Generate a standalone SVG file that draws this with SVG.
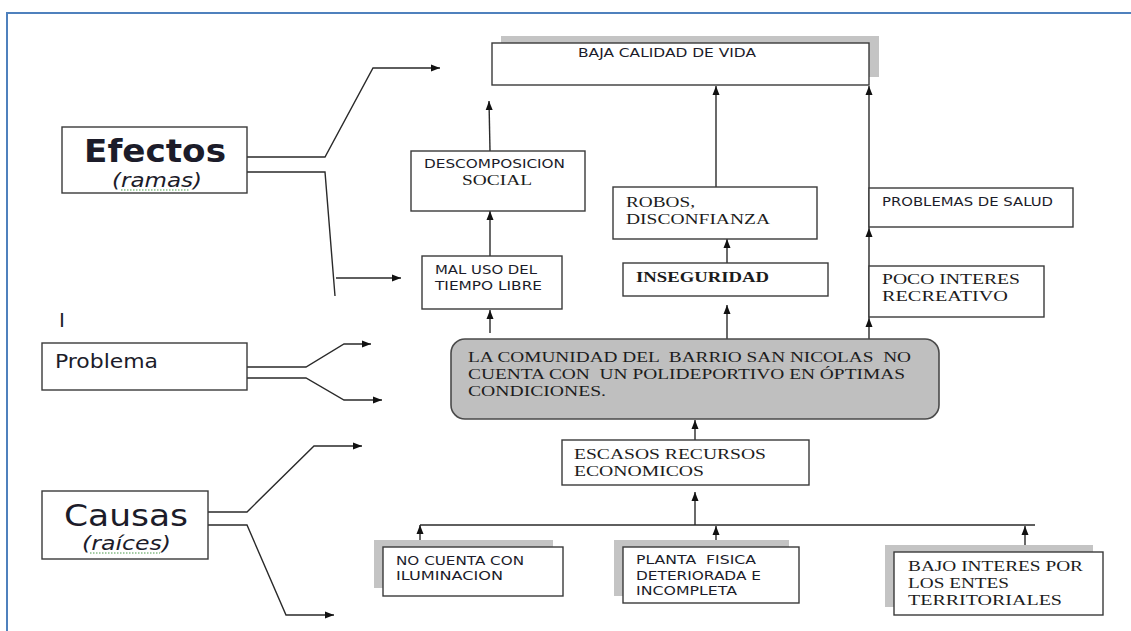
<svg xmlns="http://www.w3.org/2000/svg" width="1131" height="631" viewBox="0 0 1131 631">
<style>
.box{fill:#fff;stroke:#3a3a3a;stroke-width:1.4}
.shadow{fill:#c4c4c4}
.prob{fill:#bfbfbf;stroke:#4a4a4a;stroke-width:1.6}
.con{fill:none;stroke:#2a2a2a;stroke-width:1.4}
.sans{font-family:"DejaVu Sans",Verdana,sans-serif;fill:#1c1c2a}
.serif{font-family:"Liberation Serif","Times New Roman",serif;fill:#1c1c1c}
.frame{fill:none;stroke:#4f81bd;stroke-width:2}
.squig{stroke:#4a9a4a;stroke-width:1;stroke-dasharray:1.5 1.5}
</style>
<defs>
<marker id="ah" markerUnits="userSpaceOnUse" markerWidth="10" markerHeight="8" refX="9" refY="4" orient="auto">
<path d="M0,0.5 L9,4 L0,7.5 z" fill="#111"/>
</marker>
</defs>
<rect width="1131" height="631" fill="#fff"/>
<path class="frame" d="M7,631 L7,13 L1131,13"/>

<g id="connectors">
<polyline class="con" points="247,157 325,157 373,68 440,68" marker-end="url(#ah)"/>
<polyline class="con" points="247,172 325,172 335,296"/>
<line class="con" x1="336" y1="278" x2="401" y2="278" marker-end="url(#ah)"/>
<polyline class="con" points="247,367 306,367 344,344 371,344" marker-end="url(#ah)"/>
<polyline class="con" points="247,378 306,378 344,400 382,400" marker-end="url(#ah)"/>
<polyline class="con" points="208,512 247,512 314,446 362,446" marker-end="url(#ah)"/>
<polyline class="con" points="208,525 247,525 286,615 334,615" marker-end="url(#ah)"/>
<line class="con" x1="490" y1="151" x2="489" y2="101" marker-end="url(#ah)"/>
<line class="con" x1="490" y1="256" x2="490" y2="211" marker-end="url(#ah)"/>
<line class="con" x1="490" y1="333" x2="490" y2="310" marker-end="url(#ah)"/>
<line class="con" x1="716" y1="187" x2="716" y2="86" marker-end="url(#ah)"/>
<line class="con" x1="727" y1="263" x2="727" y2="239" marker-end="url(#ah)"/>
<line class="con" x1="727" y1="339" x2="727" y2="305" marker-end="url(#ah)"/>
<line class="con" x1="869" y1="339" x2="869" y2="318" marker-end="url(#ah)"/>
<line class="con" x1="869" y1="318" x2="869" y2="228" marker-end="url(#ah)"/>
<line class="con" x1="869" y1="228" x2="869" y2="86" marker-end="url(#ah)"/>
<line class="con" x1="695" y1="440" x2="695" y2="420" marker-end="url(#ah)"/>
<line class="con" x1="695" y1="525" x2="695" y2="492" marker-end="url(#ah)"/>
<line class="con" x1="420" y1="525" x2="1035" y2="525"/>
<line class="con" x1="420" y1="547" x2="420" y2="525" marker-end="url(#ah)"/>
<line class="con" x1="716" y1="547" x2="716" y2="526" marker-end="url(#ah)"/>
<line class="con" x1="1025" y1="552" x2="1025" y2="526" marker-end="url(#ah)"/>
</g>

<g id="efectos">
<rect class="box" x="62" y="127" width="185" height="66"/>
<text class="sans" x="84" y="162" font-size="32" font-weight="bold" textLength="142" lengthAdjust="spacingAndGlyphs">Efectos</text>
<text class="sans" x="112" y="187" font-size="19" font-style="italic" textLength="90" lengthAdjust="spacingAndGlyphs">(ramas)</text>
<line class="squig" x1="121" y1="190" x2="189" y2="190"/>
</g>

<g id="marker-i">
<text class="sans" x="59" y="327" font-size="20" fill="#000">I</text>
</g>

<g id="problema">
<rect class="box" x="42" y="343" width="205" height="47"/>
<text class="sans" x="55" y="368" font-size="20" textLength="103" lengthAdjust="spacingAndGlyphs">Problema</text>
</g>

<g id="causas">
<rect class="box" x="42" y="491" width="166" height="68"/>
<text class="sans" x="64" y="526" font-size="30" textLength="124" lengthAdjust="spacingAndGlyphs">Causas</text>
<text class="sans" x="82" y="550" font-size="19" font-style="italic" textLength="89" lengthAdjust="spacingAndGlyphs">(raíces)</text>
<line class="squig" x1="90" y1="553" x2="160" y2="553"/>
</g>

<g id="baja-calidad">
<rect class="shadow" x="501" y="36" width="378" height="41"/>
<rect class="box" x="492" y="43" width="377" height="42"/>
<text class="sans" x="578" y="57" font-size="12" textLength="178" lengthAdjust="spacingAndGlyphs">BAJA CALIDAD DE VIDA</text>
</g>

<g id="descomposicion">
<rect class="box" x="411" y="151" width="174" height="60"/>
<text class="sans" x="424" y="168" font-size="12" textLength="141" lengthAdjust="spacingAndGlyphs">DESCOMPOSICION</text>
<text class="serif" x="462" y="185" font-size="15" textLength="70" lengthAdjust="spacingAndGlyphs">SOCIAL</text>
</g>

<g id="mal-uso">
<rect class="box" x="422" y="256" width="140" height="53"/>
<text class="sans" x="435" y="274" font-size="12" textLength="102" lengthAdjust="spacingAndGlyphs">MAL USO DEL</text>
<text class="sans" x="435" y="290" font-size="12" textLength="107" lengthAdjust="spacingAndGlyphs">TIEMPO LIBRE</text>
</g>

<g id="robos">
<rect class="box" x="613" y="187" width="204" height="52"/>
<text class="serif" x="626" y="207" font-size="15" textLength="69" lengthAdjust="spacingAndGlyphs">ROBOS,</text>
<text class="serif" x="626" y="224" font-size="15" textLength="144" lengthAdjust="spacingAndGlyphs">DISCONFIANZA</text>
</g>

<g id="inseguridad">
<rect class="box" x="623" y="263" width="205" height="33"/>
<text class="serif" x="636" y="282" font-size="15" font-weight="bold" textLength="133" lengthAdjust="spacingAndGlyphs">INSEGURIDAD</text>
</g>

<g id="problemas-salud">
<rect class="box" x="869" y="188" width="204" height="39"/>
<text class="sans" x="882" y="206" font-size="12" textLength="171" lengthAdjust="spacingAndGlyphs">PROBLEMAS DE SALUD</text>
</g>

<g id="poco-interes">
<rect class="box" x="869" y="266" width="175" height="51"/>
<text class="serif" x="882" y="284" font-size="15" textLength="138" lengthAdjust="spacingAndGlyphs">POCO INTERES</text>
<text class="serif" x="882" y="301" font-size="15" textLength="126" lengthAdjust="spacingAndGlyphs">RECREATIVO</text>
</g>

<g id="problema-central">
<rect class="prob" x="451" y="339" width="488" height="80" rx="14" ry="14"/>
<text class="serif" x="468" y="362" font-size="15.5" textLength="443" lengthAdjust="spacingAndGlyphs" xml:space="preserve">LA COMUNIDAD DEL  BARRIO SAN NICOLAS  NO</text>
<text class="serif" x="468" y="379" font-size="15.5" textLength="437" lengthAdjust="spacingAndGlyphs" xml:space="preserve">CUENTA CON  UN POLIDEPORTIVO EN ÓPTIMAS</text>
<text class="serif" x="468" y="396" font-size="15.5" textLength="138" lengthAdjust="spacingAndGlyphs">CONDICIONES.</text>
</g>

<g id="escasos">
<rect class="box" x="562" y="440" width="247" height="45"/>
<text class="serif" x="574" y="459" font-size="15" textLength="192" lengthAdjust="spacingAndGlyphs">ESCASOS RECURSOS</text>
<text class="serif" x="574" y="476" font-size="15" textLength="130" lengthAdjust="spacingAndGlyphs">ECONOMICOS</text>
</g>

<g id="no-cuenta">
<rect class="shadow" x="374" y="540" width="179" height="48"/>
<rect class="box" x="383" y="547" width="180" height="49"/>
<text class="sans" x="396" y="565" font-size="12" textLength="128" lengthAdjust="spacingAndGlyphs">NO CUENTA CON</text>
<text class="sans" x="396" y="580" font-size="12" textLength="107" lengthAdjust="spacingAndGlyphs">ILUMINACION</text>
</g>

<g id="planta">
<rect class="shadow" x="614" y="540" width="175" height="56"/>
<rect class="box" x="623" y="547" width="176" height="56"/>
<text class="sans" x="636" y="564" font-size="12" textLength="120" lengthAdjust="spacingAndGlyphs" xml:space="preserve">PLANTA  FISICA</text>
<text class="sans" x="636" y="580" font-size="12" textLength="125" lengthAdjust="spacingAndGlyphs">DETERIORADA E</text>
<text class="sans" x="636" y="595" font-size="12" textLength="101" lengthAdjust="spacingAndGlyphs">INCOMPLETA</text>
</g>

<g id="bajo-interes">
<rect class="shadow" x="885" y="545" width="208" height="62"/>
<rect class="box" x="894" y="552" width="209" height="63"/>
<text class="serif" x="908" y="571" font-size="15" textLength="175" lengthAdjust="spacingAndGlyphs">BAJO INTERES POR</text>
<text class="serif" x="908" y="588" font-size="15" textLength="101" lengthAdjust="spacingAndGlyphs">LOS ENTES</text>
<text class="serif" x="908" y="605" font-size="15" textLength="154" lengthAdjust="spacingAndGlyphs">TERRITORIALES</text>
</g>
</svg>
